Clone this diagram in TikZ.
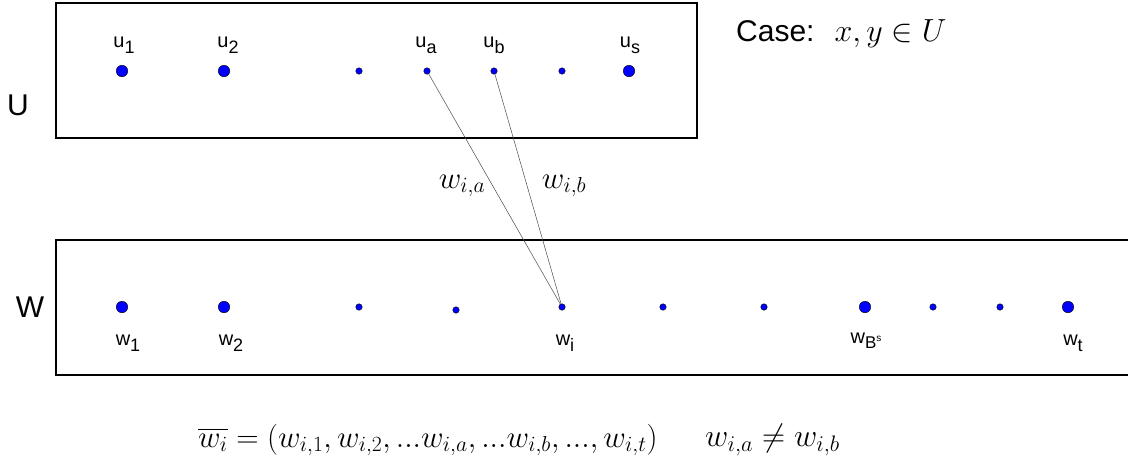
\RequirePackage{fix-cm}
\documentclass[tikz,border=0pt]{standalone}
\usepackage{amsmath,amssymb}
\usepackage{fontspec}
\usepackage{tikz}
\usetikzlibrary{positioning}
\newfontfamily\labfont{Liberation Sans}
\newcommand{\sublab}[2]{#1\raisebox{-0.55ex}{\fontsize{18}{18}\selectfont #2}}

\begin{document}
\begin{tikzpicture}[
    x=1pt, y=-1pt,
    setbox/.style={draw=black, line width=1.7pt},
    bigdot/.style={circle, draw=black, line width=0.4pt, fill=blue, inner sep=0pt, minimum size=11.5pt},
    smalldot/.style={circle, draw=black, line width=0.4pt, fill=blue, inner sep=0pt, minimum size=6.5pt},
    lab/.style={font=\labfont\fontsize{20}{24}\selectfont, inner sep=0pt},
    setname/.style={font=\labfont\fontsize{30}{36}\selectfont, inner sep=0pt},
    mathtext/.style={font=\fontsize{31}{38}\selectfont, inner sep=0pt},
    edge/.style={draw=black!70, line width=0.5pt}
]
\useasboundingbox (0,0) rectangle (1128,458);

\draw[setbox] (56,3) rectangle (697,138);
\draw[setbox] (1130,240) -- (56,240) -- (56,375) -- (1130,375);

\node[setname] (Uname) at (18,105) {U};
\node[setname] (Wname) at (30,307) {W};

\node[bigdot] (u1) at (122,71) {};
\node[bigdot] (u2) at (224,71) {};
\node[smalldot] (ud1) at (359,71) {};
\node[smalldot] (ua) at (427,71) {};
\node[smalldot] (ub) at (494,71) {};
\node[smalldot] (ud2) at (562,71) {};
\node[bigdot] (us) at (629,71) {};

\node[lab] at (124,45) {\sublab{u}{1}};
\node[lab] at (228,45) {\sublab{u}{2}};
\node[lab] at (426,45) {\sublab{u}{a}};
\node[lab] at (494,45) {\sublab{u}{b}};
\node[lab] at (630,45) {\sublab{u}{s}};

\node[bigdot] (w1) at (122,307) {};
\node[bigdot] (w2) at (224,307) {};
\node[smalldot] (wd1) at (359,307) {};
\node[smalldot] (wd2) at (456,310) {};
\node[smalldot] (wi) at (562,307) {};
\node[smalldot] (wd3) at (663,307) {};
\node[smalldot] (wd4) at (764,307) {};
\node[bigdot] (wB) at (865,307) {};
\node[smalldot] (wd5) at (933,307) {};
\node[smalldot] (wd6) at (1000,307) {};
\node[bigdot] (wt) at (1068,307) {};

\node[lab] at (128,343) {\sublab{w}{1}};
\node[lab] at (231,343) {\sublab{w}{2}};
\node[lab] at (565,343) {\sublab{w}{i}};
\node[lab] at (866,341) {w\raisebox{-0.5ex}{\fontsize{17}{17}\selectfont B\raisebox{0.8ex}{\fontsize{10}{10}\selectfont s}}};
\node[lab] at (1073,343) {\sublab{w}{t}};

\draw[edge] (ua) -- (wi);
\draw[edge] (ub) -- (wi);

\node[mathtext] (lwa) at (462,186) {$w_{i,a}$};
\node[mathtext] (lwb) at (564,186) {$w_{i,b}$};

\node[lab, anchor=west, font=\labfont\fontsize{30}{36}\selectfont] (case) at (736,34) {Case:\hspace{20pt}\fontsize{32}{38}\selectfont$x,y\in U$};

\node[mathtext, anchor=west] (vec) at (198,440) {$\overline{w_i}=(w_{i,1},w_{i,2},...w_{i,a},...w_{i,b},...,w_{i,t})$};
\node[mathtext, anchor=west, font=\fontsize{32}{38}\selectfont] (neq) at (705,440) {$w_{i,a}\neq w_{i,b}$};
\end{tikzpicture}
\end{document}
